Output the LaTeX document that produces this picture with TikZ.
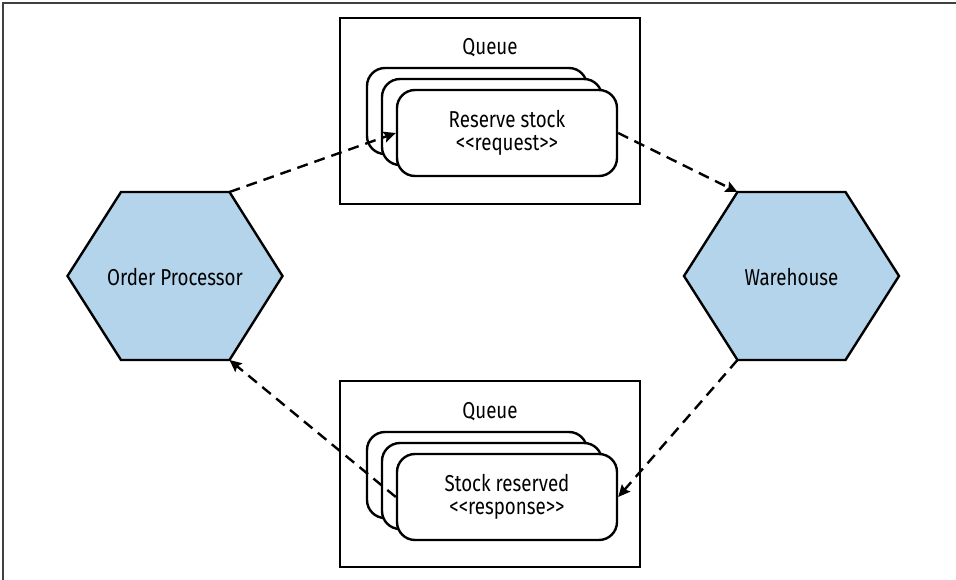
\documentclass[tikz,border=0pt]{standalone}
\usepackage{fontspec}
\newfontfamily\lbl{Fira Sans}[FakeStretch=0.815]
\usetikzlibrary{arrows.meta}
\definecolor{hexblue}{RGB}{179,212,234}
\begin{document}
\begin{tikzpicture}[x=1pt,y=-1pt,
  every node/.append style={font={\lbl\fontsize{23}{23}\selectfont}},
  hexa/.style={draw, line width=2.4pt, fill=hexblue, line join=miter},
  qbox/.style={draw, line width=2.4pt, minimum width=300pt, minimum height=186pt, inner sep=0pt},
  msg/.style={draw, line width=2.4pt, fill=white, rounded corners=18pt, minimum width=220pt, minimum height=86pt, align=center, inner sep=0pt},
  flow/.style={line width=2.4pt, dash pattern=on 11pt off 7pt, -{Stealth[length=12pt,width=11pt,inset=2pt]}},
  frameline/.style={draw=black!75, line width=1.5pt}
]
\useasboundingbox (0,0) rectangle (956,580);
% outer frame edges
\coordinate (fr-tl) at (3,3);
\coordinate (fr-tr) at (956,3);
\coordinate (fr-bl) at (3,580);
\draw[frameline] (fr-bl) -- (fr-tl) -- (fr-tr);

% Order Processor hexagon
\coordinate (op-l) at (67.5,276);
\coordinate (op-tl) at (121,192);
\coordinate (op-tr) at (229.5,192);
\coordinate (op-r) at (282.5,276);
\coordinate (op-br) at (229.5,360);
\coordinate (op-bl) at (121,360);
\path[hexa] (op-l) -- (op-tl) -- (op-tr) -- (op-r) -- (op-br) -- (op-bl) -- cycle;
\node (op) at (175,277) {Order Processor};

% Warehouse hexagon
\coordinate (wh-l) at (684,276);
\coordinate (wh-tl) at (737.5,192);
\coordinate (wh-tr) at (845.5,192);
\coordinate (wh-r) at (899,276);
\coordinate (wh-br) at (845.5,360);
\coordinate (wh-bl) at (737.5,360);
\path[hexa] (wh-l) -- (wh-tl) -- (wh-tr) -- (wh-r) -- (wh-br) -- (wh-bl) -- cycle;
\node (wh) at (791.5,277) {Warehouse};

% Top queue
\node[qbox] (qtop) at (490,111) {};
\node (qtoplbl) at (490,48) {Queue};
\node[msg] (btop) at (477,111) {};
\node[msg] (mtop) at (492,122) {};
\node[msg] (ftop) at (507,133) {Reserve stock\\<\kern0pt<request>\kern0pt>};

% Bottom queue
\node[qbox] (qbot) at (490,474) {};
\node (qbotlbl) at (490,412) {Queue};
\node[msg] (bbot) at (477,475) {};
\node[msg] (mbot) at (492,486) {};
\node[msg] (fbot) at (507,497) {Stock reserved\\<\kern0pt<response>\kern0pt>};

% Flows
\draw[flow] (op-tr) -- (ftop.west);
\draw[flow] (ftop.east) -- (wh-tl);
\draw[flow] (wh-bl) -- (fbot.east);
\draw[flow] (fbot.west) -- (op-br);
\end{tikzpicture}
\end{document}
